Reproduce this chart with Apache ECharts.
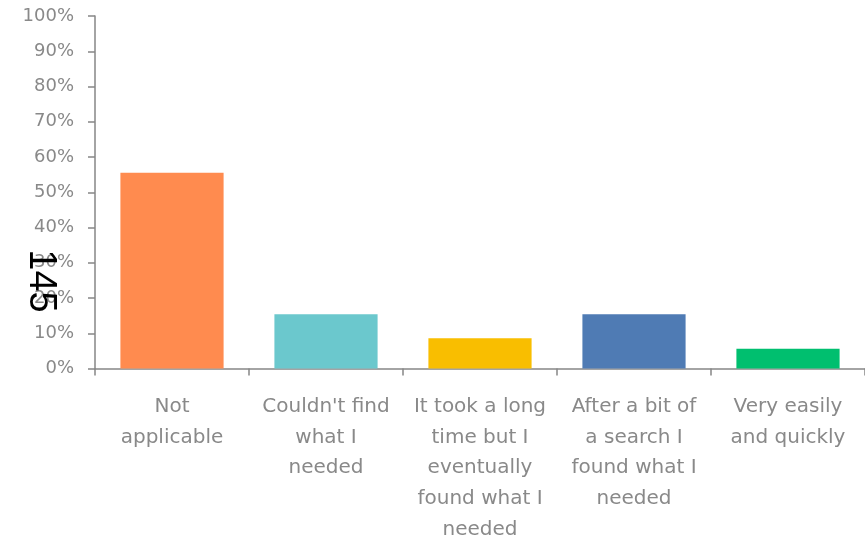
<!DOCTYPE html>
<html>
<head>
<meta charset="utf-8">
<script src="https://cdn.jsdelivr.net/npm/echarts@6/dist/echarts.min.js"></script>
<style>
html,body{margin:0;padding:0;background:#fff;}
#chart{width:865px;height:545px;}
</style>
</head>
<body>
<div id="chart"></div>
<script>
var categories = [
  "Not\napplicable",
  "Couldn't find\nwhat I\nneeded",
  "It took a long\ntime but I\neventually\nfound what I\nneeded",
  "After a bit of\na search I\nfound what I\nneeded",
  "Very easily\nand quickly"
];
var values = [55.5, 15.4, 8.6, 15.4, 5.6];
var barColors = ["#FF8B4F", "#6BC8CD", "#F9BE00", "#4F7BB4", "#00BF6F"];
var strayText = "145";

var chart = echarts.init(document.getElementById('chart'), null, {renderer: 'canvas'});
var axisGray = '#868686';
chart.setOption({
  animation: false,
  backgroundColor: '#ffffff',
  grid: {left: 95, top: 16, width: 773, height: 353, containLabel: false},
  xAxis: {
    type: 'category',
    data: categories,
    axisLine: {show: true, lineStyle: {color: axisGray, width: 1.5}},
    axisTick: {show: true, alignWithLabel: false, length: 7, lineStyle: {color: axisGray, width: 1.5}},
    axisLabel: {
      interval: 0,
      margin: 23,
      color: '#898989',
      fontFamily: 'DejaVu Sans',
      fontSize: 20,
      lineHeight: 30.7,
      align: 'center'
    }
  },
  yAxis: {
    type: 'value',
    min: 0,
    max: 100,
    interval: 10,
    axisLine: {show: true, lineStyle: {color: axisGray, width: 1.5}},
    axisTick: {show: true, length: 7, lineStyle: {color: axisGray, width: 1.5}},
    splitLine: {show: false},
    axisLabel: {
      margin: 21,
      color: '#898989',
      fontFamily: 'DejaVu Sans',
      fontSize: 18,
      formatter: '{value}%'
    }
  },
  series: [{
    type: 'bar',
    data: values.map(function (v, i) { return {value: v, itemStyle: {color: barColors[i]}}; }),
    barCategoryGap: '33%'
  }],
  graphic: [{
    type: 'text',
    x: 40,
    y: 281,
    rotation: -Math.PI / 2,
    z: 100,
    style: {
      text: strayText,
      fill: '#000000',
      font: '38px "Liberation Sans"',
      textAlign: 'center',
      textVerticalAlign: 'middle'
    }
  }]
});
</script>
</body>
</html>
